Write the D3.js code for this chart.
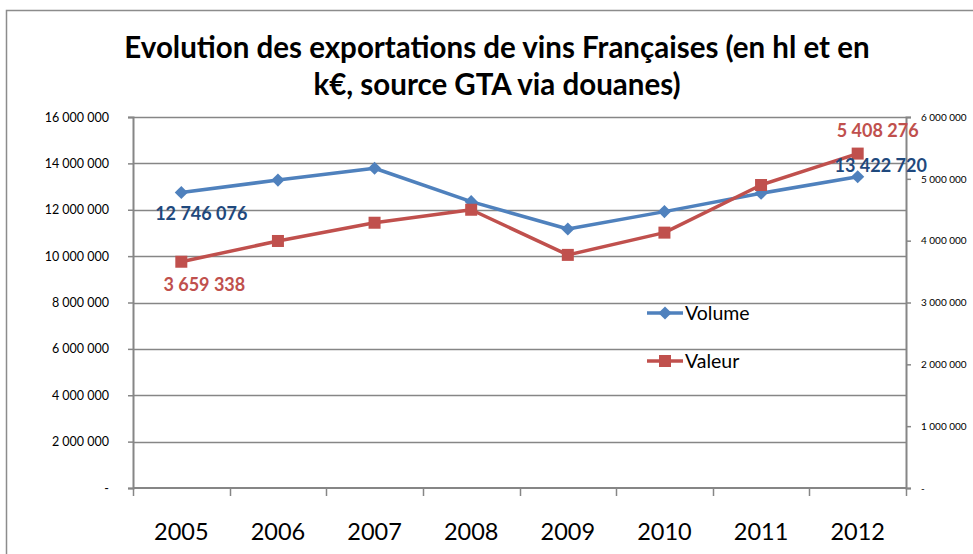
<!DOCTYPE html>
<html>
<head>
<meta charset="utf-8">
<script src="https://cdn.jsdelivr.net/npm/d3@7"></script>
<style>
  body { margin: 0; background: #fff; }
  svg text { font-family: Lato, 'Open Sans', sans-serif; }
</style>
</head>
<body>
<svg id="chart" width="973" height="554"></svg>
<script>
// data
var years = ['2005', '2006', '2007', '2008', '2009', '2010', '2011', '2012'];
var volume = [12746076, 13280000, 13790000, 12350000, 11170000, 11920000, 12710000, 13422720];
var valeur = [3659338, 3995000, 4290000, 4500000, 3770000, 4130000, 4900000, 5408276];
var leftTicks = [0, 2000000, 4000000, 6000000, 8000000, 10000000, 12000000, 14000000, 16000000];
var rightTicks = [0, 1000000, 2000000, 3000000, 4000000, 5000000, 6000000];
var titleLines = ['Evolution des exportations de vins Françaises (en hl et en', 'k€, source GTA via douanes)'];

var blue = '#4f81bd', red = '#c0504d', axisGray = '#868686';

var svg = d3.select('#chart');
var margin = {top: 117, left: 133, right: 67, bottom: 66};
var width = 973 - margin.left - margin.right;
var height = 554 - margin.top - margin.bottom;

// outer chart border (runs off the right and bottom edge)
svg.append('rect')
  .attr('x', 6.5).attr('y', 10.5)
  .attr('width', 1000).attr('height', 600)
  .attr('fill', 'none')
  .attr('stroke', '#8c8c8c')
  .attr('stroke-width', 1.5);

// title
svg.selectAll('.title')
  .data(titleLines)
  .enter()
  .append('text')
  .attr('class', 'title')
  .attr('x', 497)
  .attr('y', function(d, i) { return 58 + i * 37; })
  .attr('text-anchor', 'middle')
  .style('font-weight', 'bold')
  .style('font-size', '29.5px')
  .text(function(d) { return d; });

var g = svg.append('g')
  .attr('transform', 'translate(' + margin.left + ',' + margin.top + ')');

var x = d3.scaleBand().domain(years).range([0, width]);
var yLeft = d3.scaleLinear().domain([0, 16000000]).range([height, 0]);
var yRight = d3.scaleLinear().domain([0, 6000000]).range([height, 0]);

var fmt = function(v) {
  if (v === 0) { return '-'; }
  return d3.format(',')(v).replace(/,/g, '\u202f');
};
var fmtLabel = function(v) {
  return d3.format(',')(v).replace(/,/g, ' ');
};

// gridlines
g.selectAll('.grid')
  .data(leftTicks.slice(1))
  .enter()
  .append('line')
  .attr('class', 'grid')
  .attr('x1', 0).attr('x2', width)
  .attr('y1', function(d) { return Math.round(yLeft(d)) + 0.5; })
  .attr('y2', function(d) { return Math.round(yLeft(d)) + 0.5; })
  .attr('stroke', axisGray)
  .attr('stroke-width', 1.5);

// left axis
var leftAxis = g.append('g')
  .call(d3.axisLeft(yLeft).tickValues(leftTicks).tickFormat(fmt).tickSize(5).tickPadding(19));
// right axis
var rightAxis = g.append('g')
  .attr('transform', 'translate(' + width + ',0)')
  .call(d3.axisRight(yRight).tickValues(rightTicks).tickFormat(fmt).tickSize(5).tickPadding(10));
[leftAxis, rightAxis].forEach(function(a) {
  a.select('.domain').attr('stroke', axisGray).attr('stroke-width', 2);
  a.selectAll('.tick line').attr('stroke', axisGray).attr('stroke-width', 1.5);
  a.selectAll('.tick text').attr('fill', '#000');
});
leftAxis.selectAll('.tick text').style('font-size', '12.5px');
rightAxis.selectAll('.tick text').style('font-size', '10px');

// bottom axis: ticks on category boundaries
var xAxis = g.append('g')
  .attr('transform', 'translate(0,' + height + ')');
xAxis.append('line')
  .attr('x1', 0).attr('x2', width)
  .attr('stroke', axisGray).attr('stroke-width', 2);
xAxis.selectAll('.xtick')
  .data(years.concat(['end']))
  .enter()
  .append('line')
  .attr('class', 'xtick')
  .attr('x1', function(d, i) { return Math.round(i * x.step()) + 0.5; })
  .attr('x2', function(d, i) { return Math.round(i * x.step()) + 0.5; })
  .attr('y1', 0).attr('y2', 8)
  .attr('stroke', axisGray).attr('stroke-width', 1.5);
xAxis.selectAll('.xlabel')
  .data(years)
  .enter()
  .append('text')
  .attr('class', 'xlabel')
  .attr('x', function(d) { return x(d) + x.bandwidth() / 2; })
  .attr('y', 52)
  .attr('text-anchor', 'middle')
  .style('font-size', '23.5px')
  .text(function(d) { return d; });

var cx = function(i) { return x(years[i]) + x.bandwidth() / 2; };

var lineLeft = d3.line()
  .x(function(d, i) { return cx(i); })
  .y(function(d) { return yLeft(d); });
var lineRight = d3.line()
  .x(function(d, i) { return cx(i); })
  .y(function(d) { return yRight(d); });

g.append('path')
  .datum(volume)
  .attr('d', lineLeft)
  .attr('fill', 'none')
  .attr('stroke', blue)
  .attr('stroke-width', 3.5)
  .attr('stroke-linejoin', 'round');

g.selectAll('.diamond')
  .data(volume)
  .enter()
  .append('path')
  .attr('class', 'diamond')
  .attr('d', d3.symbol(d3.symbolDiamond2, 110))
  .attr('transform', function(d, i) { return 'translate(' + cx(i) + ',' + yLeft(d) + ')'; })
  .attr('fill', blue);

g.append('path')
  .datum(valeur)
  .attr('d', lineRight)
  .attr('fill', 'none')
  .attr('stroke', red)
  .attr('stroke-width', 3.5)
  .attr('stroke-linejoin', 'round');

g.selectAll('.square')
  .data(valeur)
  .enter()
  .append('rect')
  .attr('class', 'square')
  .attr('x', function(d, i) { return cx(i) - 6; })
  .attr('y', function(d) { return yRight(d) - 6; })
  .attr('width', 12).attr('height', 12)
  .attr('fill', red);

// data labels on first and last points
var last = years.length - 1;
var labels = [
  {text: fmtLabel(volume[0]), x: cx(0) + 20, y: yLeft(volume[0]) + 28, color: '#1f497d'},
  {text: fmtLabel(volume[last]), x: cx(last) + 23, y: yLeft(volume[last]) - 5, color: '#1f497d'},
  {text: fmtLabel(valeur[0]), x: cx(0) + 23, y: yRight(valeur[0]) + 29, color: red},
  {text: fmtLabel(valeur[last]), x: cx(last) + 20, y: yRight(valeur[last]) - 17, color: red}
];
g.selectAll('.dlabel')
  .data(labels)
  .enter()
  .append('text')
  .attr('class', 'dlabel')
  .attr('x', function(d) { return d.x; })
  .attr('y', function(d) { return d.y; })
  .attr('text-anchor', 'middle')
  .attr('fill', function(d) { return d.color; })
  .style('font-weight', 'bold')
  .style('font-size', '18px')
  .text(function(d) { return d.text; });

// legend
var legend = [
  {name: 'Volume', color: blue, shape: 'diamond', y: 313},
  {name: 'Valeur', color: red, shape: 'square', y: 361}
];
var lg = svg.selectAll('.legend')
  .data(legend)
  .enter()
  .append('g')
  .attr('class', 'legend')
  .attr('transform', function(d) { return 'translate(647,' + d.y + ')'; });
lg.append('line')
  .attr('x1', 0).attr('x2', 36)
  .attr('stroke', function(d) { return d.color; })
  .attr('stroke-width', 3.5);
lg.append('path')
  .attr('d', function(d) {
    return d.shape === 'diamond' ? d3.symbol(d3.symbolDiamond2, 110)() : d3.symbol(d3.symbolSquare, 144)();
  })
  .attr('transform', 'translate(18,0)')
  .attr('fill', function(d) { return d.color; });
lg.append('text')
  .attr('x', 38)
  .attr('y', 6.5)
  .style('font-size', '19.5px')
  .text(function(d) { return d.name; });
</script>
</body>
</html>
